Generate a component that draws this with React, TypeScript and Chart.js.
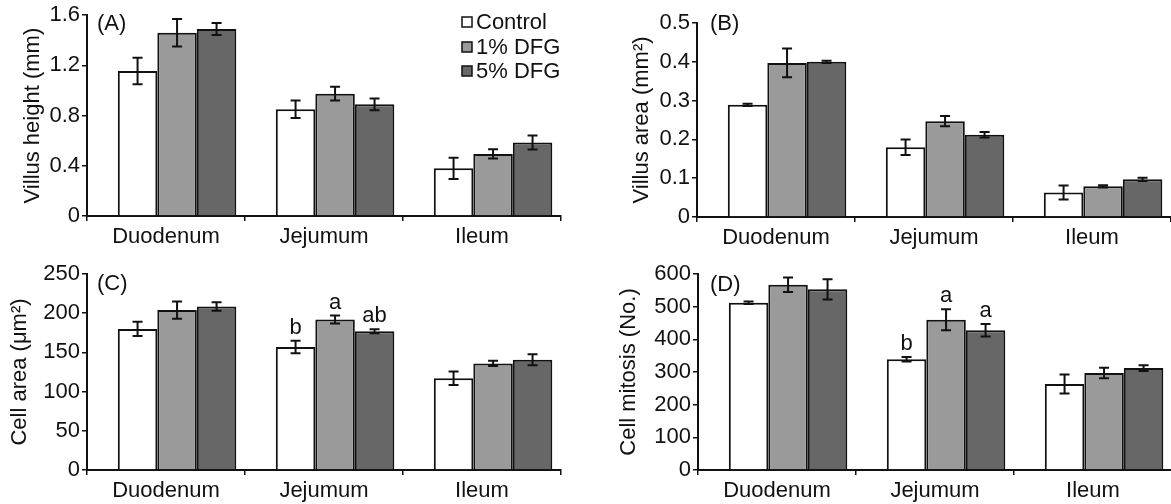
import React, { useEffect, useRef } from "react";
import { Chart, registerables } from "chart.js";

Chart.register(...registerables);

const categories = ["Duodenum", "Jejumum", "Ileum"];
const seriesNames = ["Control", "1% DFG", "5% DFG"];

// (A) Villus height (mm)
const villusHeightControl = [1.155, 0.85, 0.38];
const villusHeight1 = [1.46, 0.975, 0.495];
const villusHeight5 = [1.49, 0.89, 0.585];
const villusHeightErrControl = [0.105, 0.07, 0.085];
const villusHeightErr1 = [0.11, 0.055, 0.037];
const villusHeightErr5 = [0.047, 0.047, 0.056];
const villusHeightTicks = [0, 0.4, 0.8, 1.2, 1.6];
const villusHeightTickLabels = ["0", "0.4", "0.8", "1.2", "1.6"];

// (B) Villus area (mm2)
const villusAreaControl = [0.289, 0.18, 0.063];
const villusArea1 = [0.397, 0.247, 0.079];
const villusArea5 = [0.4, 0.212, 0.097];
const villusAreaErrControl = [0.003, 0.02, 0.018];
const villusAreaErr1 = [0.037, 0.013, 0.003];
const villusAreaErr5 = [0.003, 0.007, 0.004];
const villusAreaTicks = [0, 0.1, 0.2, 0.3, 0.4, 0.5];
const villusAreaTickLabels = ["0", "0.1", "0.2", "0.3", "0.4", "0.5"];

// (C) Cell area (um2)
const cellAreaControl = [180, 157, 117];
const cellArea1 = [204, 192, 136];
const cellArea5 = [208.5, 177, 140.5];
const cellAreaErrControl = [9, 8, 8.5];
const cellAreaErr1 = [11, 5, 3.2];
const cellAreaErr5 = [5.5, 2.5, 7];
const cellAreaLettersControl = ["", "b", ""];
const cellAreaLetters1 = ["", "a", ""];
const cellAreaLetters5 = ["", "ab", ""];
const cellAreaTicks = [0, 50, 100, 150, 200, 250];
const cellAreaTickLabels = ["0", "50", "100", "150", "200", "250"];

// (D) Cell mitosis (No.)
const mitosisControl = [512, 339, 263];
const mitosis1 = [567, 460, 297];
const mitosis5 = [553, 428, 312];
const mitosisErrControl = [4, 7, 29];
const mitosisErr1 = [22, 32, 16];
const mitosisErr5 = [31, 19, 9];
const mitosisLettersControl = ["", "b", ""];
const mitosisLetters1 = ["", "a", ""];
const mitosisLetters5 = ["", "a", ""];
const mitosisTicks = [0, 100, 200, 300, 400, 500, 600];
const mitosisTickLabels = ["0", "100", "200", "300", "400", "500", "600"];

const FONT_FAMILY = "'Liberation Sans', Arial, Helvetica, sans-serif";
const FONT_SIZE = 22;
const INK = "#111111";
const FILLS = ["#ffffff", "#9a9a9a", "#676767"];
const BAR_SHIFT = 0.07;

type Panel = {
  label: string;
  yTitle: string;
  values: number[][];
  errors: number[][];
  letters?: string[][];
  yTicks: number[];
  yTickLabels: string[];
  box: { left: number; top: number; width: number; height: number };
  area: { left: number; right: number; top: number; bottom: number };
  titleX: number;
  labelPos: { x: number; y: number };
  legend?: boolean;
};

const panels: Panel[] = [
  {
    label: "(A)",
    yTitle: "Villus height (mm)",
    values: [villusHeightControl, villusHeight1, villusHeight5],
    errors: [villusHeightErrControl, villusHeightErr1, villusHeightErr5],
    yTicks: villusHeightTicks,
    yTickLabels: villusHeightTickLabels,
    box: { left: 0, top: 0, width: 585, height: 250 },
    area: { left: 87, right: 561, top: 15, bottom: 216 },
    titleX: 33,
    labelPos: { x: 97, y: 24 },
    legend: true,
  },
  {
    label: "(B)",
    yTitle: "Villus area (mm\u00B2)",
    values: [villusAreaControl, villusArea1, villusArea5],
    errors: [villusAreaErrControl, villusAreaErr1, villusAreaErr5],
    yTicks: villusAreaTicks,
    yTickLabels: villusAreaTickLabels,
    box: { left: 585, top: 0, width: 600, height: 250 },
    area: { left: 112, right: 586, top: 23, bottom: 217 },
    titleX: 57,
    labelPos: { x: 125, y: 24 },
  },
  {
    label: "(C)",
    yTitle: "Cell area (\u03BCm\u00B2)",
    values: [cellAreaControl, cellArea1, cellArea5],
    errors: [cellAreaErrControl, cellAreaErr1, cellAreaErr5],
    letters: [cellAreaLettersControl, cellAreaLetters1, cellAreaLetters5],
    yTicks: cellAreaTicks,
    yTickLabels: cellAreaTickLabels,
    box: { left: 0, top: 250, width: 585, height: 254 },
    area: { left: 87, right: 561, top: 24, bottom: 220 },
    titleX: 20,
    labelPos: { x: 97, y: 34 },
  },
  {
    label: "(D)",
    yTitle: "Cell mitosis (No.)",
    values: [mitosisControl, mitosis1, mitosis5],
    errors: [mitosisErrControl, mitosisErr1, mitosisErr5],
    letters: [mitosisLettersControl, mitosisLetters1, mitosisLetters5],
    yTicks: mitosisTicks,
    yTickLabels: mitosisTickLabels,
    box: { left: 585, top: 250, width: 600, height: 254 },
    area: { left: 113, right: 587, top: 24, bottom: 220 },
    titleX: 44,
    labelPos: { x: 125, y: 35 },
  },
];

function ChartPanel({ cfg }: { cfg: Panel }) {
  const ref = useRef<HTMLCanvasElement | null>(null);
  useEffect(() => {
    if (!ref.current) return;
    const font = { family: FONT_FAMILY, size: FONT_SIZE, lineHeight: 1.2 };
    const lh = FONT_SIZE * 1.2;
    const decor = {
      id: "decor",
      afterDatasetsDraw(chart: any) {
        const ctx = chart.ctx as CanvasRenderingContext2D;
        const yScale = chart.scales.y;
        ctx.save();
        ctx.strokeStyle = INK;
        ctx.fillStyle = INK;
        ctx.lineWidth = 2;
        cfg.values.forEach((vals, s) => {
          const meta = chart.getDatasetMeta(s);
          vals.forEach((v, i) => {
            const el = meta.data[i];
            if (!el) return;
            const e = cfg.errors[s][i];
            const x = el.x;
            const yt = yScale.getPixelForValue(v + e);
            const yb = yScale.getPixelForValue(v - e);
            ctx.beginPath();
            ctx.moveTo(x, yt);
            ctx.lineTo(x, yb);
            ctx.moveTo(x - 5, yt);
            ctx.lineTo(x + 5, yt);
            ctx.moveTo(x - 5, yb);
            ctx.lineTo(x + 5, yb);
            ctx.stroke();
            const letter = cfg.letters ? cfg.letters[s][i] : "";
            if (letter) {
              ctx.font = `${FONT_SIZE}px ${FONT_FAMILY}`;
              ctx.textAlign = "center";
              ctx.textBaseline = "alphabetic";
              ctx.fillText(letter, x, yt - 7);
            }
          });
        });
        ctx.font = `${FONT_SIZE}px ${FONT_FAMILY}`;
        ctx.textAlign = "left";
        ctx.textBaseline = "middle";
        ctx.fillText(cfg.label, cfg.labelPos.x, cfg.labelPos.y);
        if (cfg.legend) {
          const rows = [22, 47, 71];
          seriesNames.forEach((name, s) => {
            const cy = rows[s];
            ctx.fillStyle = FILLS[s];
            ctx.fillRect(462, cy - 5, 10, 10);
            ctx.lineWidth = 1.5;
            ctx.strokeStyle = INK;
            ctx.strokeRect(462, cy - 5, 10, 10);
            ctx.fillStyle = INK;
            ctx.fillText(name, 476, cy + 1);
          });
        }
        ctx.restore();
      },
    };
    const { width, height } = cfg.box;
    const area = cfg.area;
    const chart = new Chart(ref.current, {
      type: "bar",
      data: {
        labels: categories,
        datasets: seriesNames.map((name, s) => ({
          label: name,
          data: cfg.values[s].map((v, i) => ({ x: i + BAR_SHIFT, y: v })),
          xAxisID: "xb",
          yAxisID: "y",
          backgroundColor: FILLS[s],
          borderColor: INK,
          borderWidth: 2,
          borderSkipped: "bottom",
          barPercentage: 1,
          categoryPercentage: 0.75,
        })),
      } as any,
      options: {
        responsive: false,
        animation: false,
        devicePixelRatio: 1,
        layout: {
          padding: { left: 0, top: area.top, right: width - area.right, bottom: 0 },
        },
        plugins: {
          legend: { display: false },
          tooltip: { enabled: false },
        },
        scales: {
          x: {
            type: "category",
            position: "bottom",
            offset: true,
            grid: {
              offset: true,
              drawOnChartArea: false,
              drawTicks: true,
              tickLength: 5,
              color: INK,
              lineWidth: 1.5,
            },
            border: { display: true, color: INK, width: 2 },
            ticks: {
              color: INK,
              font,
              padding: 3,
              maxRotation: 0,
              autoSkip: false,
            },
            afterFit: (s: any) => {
              s.height = height - area.bottom;
            },
          },
          xb: {
            type: "linear",
            display: false,
            position: "bottom",
            min: -0.5,
            max: 2.5,
            offset: false,
            afterBuildTicks: (s: any) => {
              s.ticks = [{ value: -0.5 }, { value: 2.5 }];
            },
          },
          y: {
            type: "linear",
            position: "left",
            min: cfg.yTicks[0],
            max: cfg.yTicks[cfg.yTicks.length - 1],
            offset: false,
            afterBuildTicks: (s: any) => {
              s.ticks = cfg.yTicks.map((v) => ({ value: v }));
            },
            grid: {
              drawOnChartArea: false,
              drawTicks: true,
              tickLength: 5,
              color: INK,
              lineWidth: 1.5,
            },
            border: { display: true, color: INK, width: 2 },
            ticks: {
              color: INK,
              font,
              padding: 2,
              callback: (_v: any, i: number) => cfg.yTickLabels[i],
            },
            title: {
              display: true,
              text: cfg.yTitle,
              color: INK,
              font,
              padding: { top: cfg.titleX - lh / 2, bottom: 0 },
            },
            afterFit: (s: any) => {
              s.width = area.left;
            },
          },
        },
      } as any,
      plugins: [decor],
    });
    return () => chart.destroy();
  }, [cfg]);
  const { left, top, width, height } = cfg.box;
  return (
    <canvas
      ref={ref}
      width={width}
      height={height}
      style={{ position: "absolute", left, top, width, height }}
    />
  );
}

export default function App() {
  useEffect(() => {
    document.body.style.margin = "0";
  }, []);
  return (
    <div
      style={{
        position: "relative",
        width: 1171,
        height: 504,
        overflow: "hidden",
        background: "#ffffff",
      }}
    >
      {panels.map((p) => (
        <ChartPanel key={p.label} cfg={p} />
      ))}
    </div>
  );
}
